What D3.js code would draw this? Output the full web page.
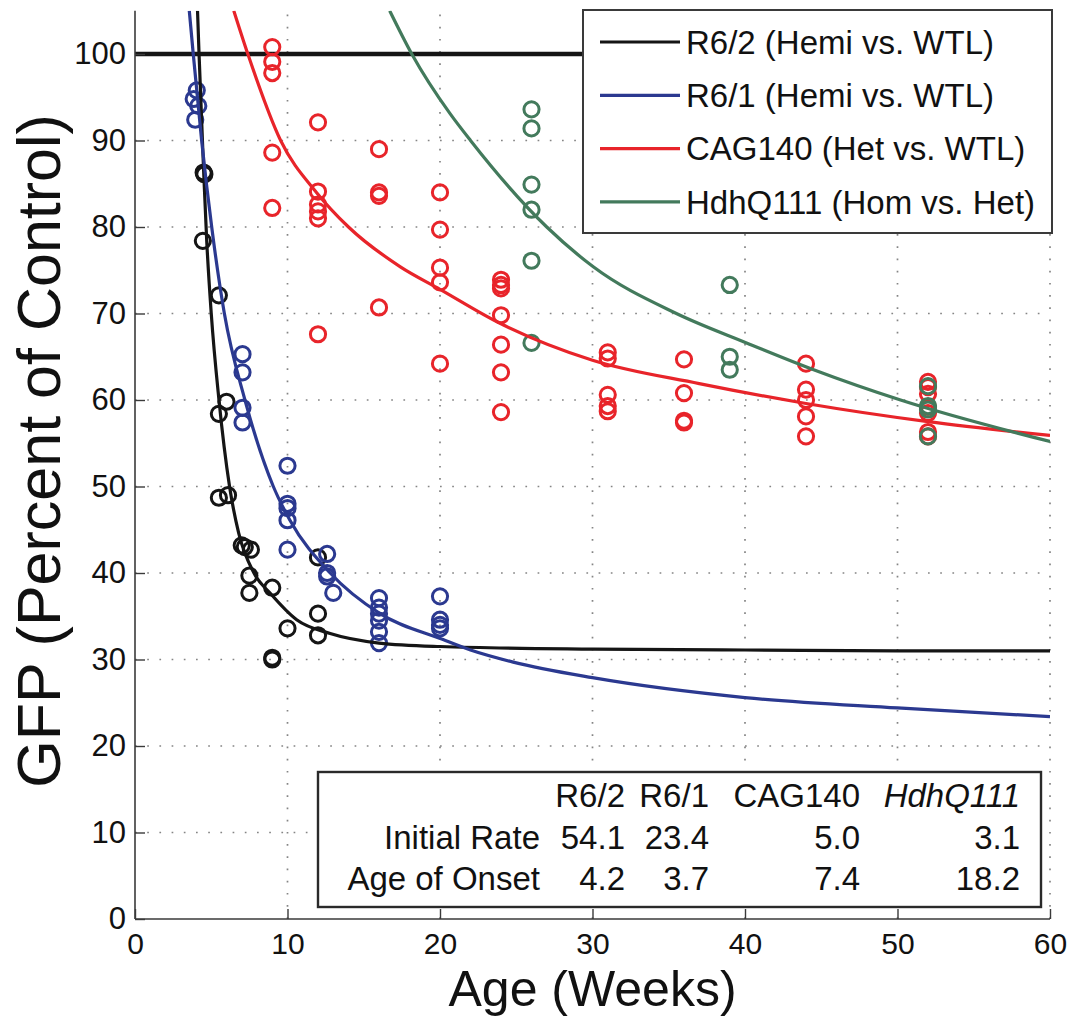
<!DOCTYPE html>
<html>
<head>
<meta charset="utf-8">
<script src="https://cdn.jsdelivr.net/npm/d3@7"></script>
<style>
  html, body { margin: 0; padding: 0; background: #fff; }
  svg { display: block; font-family: "Liberation Sans", Arial, Helvetica, sans-serif; }
</style>
</head>
<body>
<svg id="chart" width="1073" height="1017"></svg>
<script>
// ---- Axis ticks ----
const xTickValues = [0, 10, 20, 30, 40, 50, 60];
const yTickValues = [0, 10, 20, 30, 40, 50, 60, 70, 80, 90, 100];
const controlLevel = 100;

// ---- Series labels ----
const seriesLabels = [
  "R6/2 (Hemi vs. WTL)",
  "R6/1 (Hemi vs. WTL)",
  "CAG140 (Het vs. WTL)",
  "HdhQ111 (Hom vs. Het)"
];

// ---- Measured GFP (percent of control) by age in weeks ----
const r62Age = [4.5, 4.55, 4.45, 5.5, 6.0, 5.5, 5.5, 6.1, 7.0, 7.2, 7.6, 7.5, 7.5, 9.0, 9.0, 9.0, 10.0, 12.0, 12.0, 12.0];
const r62Gfp = [86.3, 86.1, 78.4, 72.1, 59.8, 58.4, 48.7, 49.0, 43.2, 43.0, 42.7, 39.7, 37.7, 38.3, 30.2, 30.0, 33.6, 41.8, 35.3, 32.8];

const r61Age = [4.05, 3.85, 4.15, 3.95, 7.05, 7.05, 7.05, 7.05, 10.0, 10.0, 10.0, 10.0, 10.0, 12.6, 12.6, 12.6, 13.0,
                16.0, 16.0, 16.0, 16.0, 16.0, 16.0, 20.0, 20.0, 20.0, 20.0];
const r61Gfp = [95.8, 94.8, 94.0, 92.4, 65.3, 63.2, 59.1, 57.4, 52.4, 48.0, 47.5, 46.1, 42.7, 42.2, 40.0, 39.6, 37.7,
                37.1, 36.0, 35.3, 34.5, 33.2, 31.9, 37.3, 34.6, 34.0, 33.6];

const cag140Age = [9, 9, 9, 9, 9,
                   12, 12, 12, 12, 12, 12,
                   16, 16, 16, 16,
                   20, 20, 20, 20, 20,
                   24, 24, 24, 24, 24, 24, 24,
                   31, 31, 31, 31, 31,
                   36, 36, 36, 36,
                   44, 44, 44, 44, 44,
                   52, 52, 52, 52, 52, 52, 52];
const cag140Gfp = [100.8, 99.1, 97.8, 88.6, 82.2,
                   92.1, 84.1, 82.6, 81.8, 81.0, 67.6,
                   89.0, 84.0, 83.6, 70.7,
                   84.0, 79.7, 75.3, 73.6, 64.2,
                   73.9, 73.3, 72.9, 69.8, 66.4, 63.2, 58.6,
                   65.5, 64.8, 60.6, 59.3, 58.7,
                   64.7, 60.8, 57.6, 57.4,
                   64.2, 61.2, 60.0, 58.1, 55.8,
                   62.1, 61.5, 60.7, 59.2, 58.5, 56.3, 55.8];

const hdhAge = [26, 26, 26, 26, 26, 26, 39, 39, 39, 52, 52, 52, 52];
const hdhGfp = [93.6, 91.4, 84.9, 82.0, 76.1, 66.6, 73.3, 65.0, 63.5, 61.6, 59.3, 58.9, 55.8];

// ---- Fitted decline curves ----
const r62FitAge = [4.1, 4.2, 4.5, 4.7, 5.0, 5.5, 6.2, 6.8, 7.8, 8.9, 10.6, 12.8, 16, 20, 30, 40, 50, 60];
const r62FitGfp = [105, 100, 86.5, 78.5, 70.0, 60.1, 50.0, 44.6, 40.0, 37.6, 34.6, 33.0, 31.9, 31.5, 31.2, 31.1, 31.0, 31.0];

const r61FitAge = [3.56, 3.82, 4.37, 5.03, 5.86, 7.21, 9.07, 10.16, 12.8, 16.07, 20.2, 22.0, 24.8, 30, 40, 50, 60];
const r61FitGfp = [105, 100, 90, 80, 70, 60, 50, 46.1, 40.0, 35.3, 32.3, 31.1, 29.7, 27.9, 25.6, 24.4, 23.4];

const cag140FitAge = [6.48, 7.4, 9.55, 11.9, 14.0, 17.4, 20, 23.9, 30, 37, 44, 52, 60];
const cag140FitGfp = [105, 100, 90, 84, 80, 75.4, 72.8, 68.9, 64.6, 61.9, 59.6, 57.5, 55.9];

const hdhFitAge = [16.7, 18.15, 20.66, 22.0, 27.0, 30.05, 35.5, 40.1, 44.5, 50.2, 60];
const hdhFitGfp = [105, 100, 93.1, 90, 80, 75.4, 70, 66.6, 63.5, 60.0, 55.2];

// ---- Summary table ----
const tableColumns = ["R6/2", "R6/1", "CAG140", "HdhQ111"];
const tableRowLabels = ["Initial Rate", "Age of Onset"];
const initialRate = ["54.1", "23.4", "5.0", "3.1"];
const ageOfOnset = ["4.2", "3.7", "7.4", "18.2"];

// ---- Styling ----
const colors = ["#151515", "#2b3990", "#e8242a", "#437a5c"];

const svg = d3.select("#chart");
const W = 1073, H = 1017;
const plot = { left: 135, right: 1050, top: 10.75, bottom: 919 };

const x = d3.scaleLinear().domain([0, 60]).range([plot.left, plot.right]);
const y = d3.scaleLinear().domain([0, 105]).range([plot.bottom, plot.top]);

svg.append("rect").attr("width", W).attr("height", H).attr("fill", "#fff");

svg.append("defs").append("clipPath").attr("id", "plotClip")
  .append("rect")
  .attr("x", plot.left).attr("y", plot.top)
  .attr("width", plot.right - plot.left).attr("height", plot.bottom - plot.top);

// Dotted grid
const grid = svg.append("g").attr("stroke", "#858585").attr("stroke-width", 1.7)
  .attr("stroke-dasharray", "1.7 10.5").attr("fill", "none");
grid.selectAll("line.v").data(xTickValues.filter(d => d > 0)).join("line")
  .attr("class", "v")
  .attr("x1", d => x(d)).attr("x2", d => x(d))
  .attr("y1", plot.bottom).attr("y2", plot.top);
grid.selectAll("line.h").data(yTickValues.filter(d => d > 0)).join("line")
  .attr("class", "h")
  .attr("x1", plot.left).attr("x2", plot.right)
  .attr("y1", d => y(d)).attr("y2", d => y(d));

// Control level
svg.append("line")
  .attr("x1", x(0)).attr("x2", x(60))
  .attr("y1", y(controlLevel)).attr("y2", y(controlLevel))
  .attr("stroke", "#151515").attr("stroke-width", 4.5);

// Data points
const pointSets = [
  { age: r62Age, gfp: r62Gfp },
  { age: r61Age, gfp: r61Gfp },
  { age: cag140Age, gfp: cag140Gfp },
  { age: hdhAge, gfp: hdhGfp }
];
pointSets.forEach((s, i) => {
  svg.append("g")
    .attr("fill", "none").attr("stroke", colors[i]).attr("stroke-width", 3)
    .selectAll("circle")
    .data(d3.zip(s.age, s.gfp))
    .join("circle")
    .attr("cx", d => x(d[0]))
    .attr("cy", d => y(d[1]))
    .attr("r", 7.6);
});

// Fitted curves
const fitSets = [
  { age: r62FitAge, gfp: r62FitGfp },
  { age: r61FitAge, gfp: r61FitGfp },
  { age: cag140FitAge, gfp: cag140FitGfp },
  { age: hdhFitAge, gfp: hdhFitGfp }
];
const lineGen = d3.line().x(d => x(d[0])).y(d => y(d[1])).curve(d3.curveMonotoneX);
const curves = svg.append("g").attr("clip-path", "url(#plotClip)");
fitSets.forEach((s, i) => {
  curves.append("path")
    .attr("d", lineGen(d3.zip(s.age, s.gfp)))
    .attr("fill", "none")
    .attr("stroke", colors[i])
    .attr("stroke-width", 3.2)
    .attr("stroke-linejoin", "round");
});

// Axes (ticks point inward)
const axisColor = "#3a3a3a";
const xAxis = svg.append("g").attr("transform", `translate(0,${plot.bottom})`)
  .call(d3.axisBottom(x).tickValues(xTickValues).tickSize(-10).tickPadding(14).tickFormat(d3.format("d")));
const yAxis = svg.append("g").attr("transform", `translate(${plot.left},0)`)
  .call(d3.axisLeft(y).tickValues(yTickValues).tickSize(-10).tickPadding(9).tickFormat(d3.format("d")));
[xAxis, yAxis].forEach(a => {
  a.select(".domain").attr("stroke", axisColor).attr("stroke-width", 1.6);
  a.selectAll(".tick line").attr("stroke", axisColor).attr("stroke-width", 1.4);
  a.selectAll(".tick text").attr("fill", "#111")
    .attr("font-family", '"Liberation Sans", Arial, sans-serif');
});
xAxis.selectAll(".tick text").attr("font-size", 30).attr("dy", "0.71em");
yAxis.selectAll(".tick text").attr("font-size", 31);
xAxis.select(".domain").attr("d", `M${plot.left},0H${plot.right}`);
yAxis.select(".domain").attr("d", `M0,${plot.bottom}V${plot.top}`);

// Axis titles
svg.append("text")
  .attr("x", (plot.left + plot.right) / 2).attr("y", 1006)
  .attr("text-anchor", "middle").attr("font-size", 50).attr("fill", "#111")
  .text("Age (Weeks)");
svg.append("text")
  .attr("transform", `translate(60,${(plot.top + plot.bottom) / 2 - 14}) rotate(-90)`)
  .attr("text-anchor", "middle").attr("font-size", 61).attr("fill", "#111")
  .text("GFP (Percent of Control)");

// Legend
const legend = svg.append("g");
legend.append("rect")
  .attr("x", 583).attr("y", 10).attr("width", 469).attr("height", 223)
  .attr("fill", "#fff").attr("stroke", "#3a3a3a").attr("stroke-width", 2);
seriesLabels.forEach((label, i) => {
  const cy = 42 + i * 53.3;
  legend.append("line")
    .attr("x1", 600).attr("x2", 680).attr("y1", cy).attr("y2", cy)
    .attr("stroke", colors[i]).attr("stroke-width", 3.2);
  legend.append("text")
    .attr("x", 686).attr("y", cy).attr("dy", "0.36em")
    .attr("font-size", 33).attr("fill", "#111")
    .text(label);
});

// Summary table
const table = svg.append("g");
table.append("rect")
  .attr("x", 318).attr("y", 772).attr("width", 723).attr("height", 135)
  .attr("fill", "#fff").attr("stroke", "#2a2a2a").attr("stroke-width", 2.4);
const colRight = [625, 709, 860, 1020];
const rowBase = [807, 849, 890];
tableColumns.forEach((c, i) => {
  table.append("text")
    .attr("x", colRight[i]).attr("y", rowBase[0])
    .attr("text-anchor", "end").attr("font-size", 33).attr("fill", "#111")
    .attr("font-style", c === "HdhQ111" ? "italic" : "normal")
    .text(c);
});
[initialRate, ageOfOnset].forEach((row, r) => {
  table.append("text")
    .attr("x", 540).attr("y", rowBase[r + 1])
    .attr("text-anchor", "end").attr("font-size", 33).attr("fill", "#111")
    .text(tableRowLabels[r]);
  row.forEach((v, i) => {
    table.append("text")
      .attr("x", colRight[i]).attr("y", rowBase[r + 1])
      .attr("text-anchor", "end").attr("font-size", 33).attr("fill", "#111")
      .text(v);
  });
});
</script>
</body>
</html>
